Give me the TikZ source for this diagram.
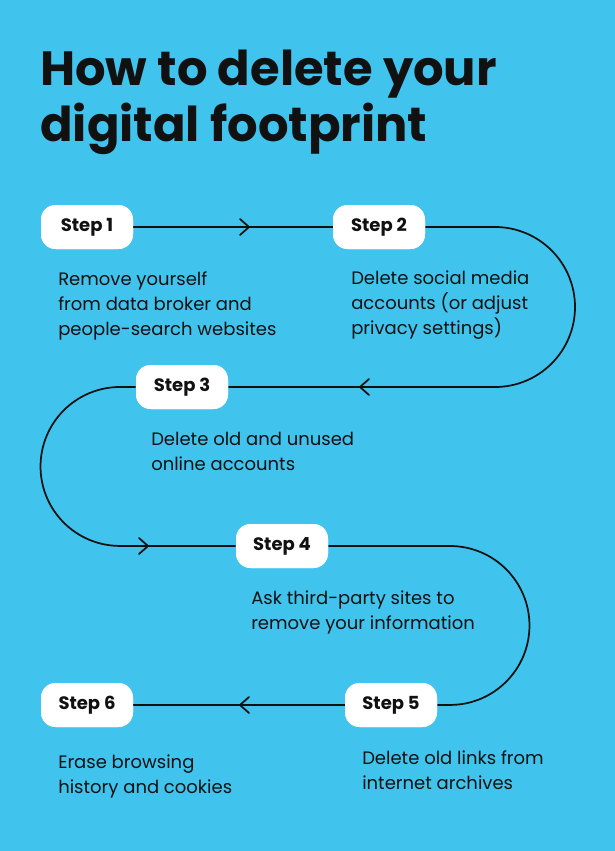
\documentclass[tikz,border=0pt]{standalone}
\usepackage{fontspec}
\setmainfont{Poppins}
\definecolor{bg}{HTML}{40C4EE}
\definecolor{ink}{HTML}{111111}
\begin{document}
\begin{tikzpicture}[x=0.75pt,y=-0.75pt,
  pill/.style={fill=white,rounded corners=11pt,minimum width=69pt,minimum height=33pt,font=\fontsize{13.5}{16}\selectfont\bfseries,text=ink},
  desc/.style={anchor=north west,align=left,font=\fontsize{13.5}{18.75}\selectfont,text=ink,inner sep=0pt},
  flow/.style={draw=ink,line width=1.3pt},
  chev/.style={draw=ink,line width=1.3pt,line cap=round,line join=miter}]
\fill[bg] (0,0) rectangle (615,851);
\useasboundingbox (0,0) rectangle (615,851);
\node[anchor=north west,inner sep=0pt,align=left,font=\fontsize{36}{42}\selectfont\bfseries,text=ink] (title) at (40,50) {How to delete your\\digital footprint};
\coordinate (k1) at (495,227); \coordinate (k3) at (120,387);
\coordinate (k5) at (450,546);
\node[pill] (s1) at (87,227) {Step 1};
\node[pill] (s2) at (379,227) {Step 2};
\node[pill] (s3) at (182,387) {Step 3};
\node[pill] (s4) at (282,546) {Step 4};
\node[pill] (s5) at (391,705) {Step 5};
\node[pill] (s6) at (87,705) {Step 6};
\draw[flow] (s1.east) -- (s2.west);
\draw[flow] (s2.east) -- (k1) arc[start angle=90,end angle=-90,radius=60pt] -- (s3.east);
\draw[flow] (s3.west) -- (k3) arc[start angle=90,end angle=270,radius=59.6pt] -- (s4.west);
\draw[flow] (s4.east) -- (k5) arc[start angle=90,end angle=-90,radius=59.6pt] -- (s5.east);
\draw[flow] (s5.west) -- (s6.east);
\node[pill] at (87,227) {Step 1};
\node[pill] at (379,227) {Step 2};
\node[pill] at (182,387) {Step 3};
\node[pill] at (282,546) {Step 4};
\node[pill] at (391,705) {Step 5};
\node[pill] at (87,705) {Step 6};
\coordinate (c1) at (249,227); \coordinate (c2) at (360,387);
\coordinate (c3) at (148,546); \coordinate (c4) at (240,705);
\draw[chev] (c1) ++(-9,-8) -- (c1) -- ++(-9,8);
\draw[chev] (c2) ++(9,-8) -- (c2) -- ++(9,8);
\draw[chev] (c3) ++(-9,-8) -- (c3) -- ++(-9,8);
\draw[chev] (c4) ++(9,-8) -- (c4) -- ++(9,8);
\node[desc] (d1) at (58,271) {Remove yourself\\from data broker and\\people-search websites};
\node[desc] (d2) at (351,271) {Delete social media\\accounts (or adjust\\privacy settings)};
\node[desc] (d3) at (151,432) {Delete old and unused\\online accounts};
\node[desc] (d4) at (251,591) {Ask third-party sites to\\remove your information};
\node[desc] (d5) at (362,750) {Delete old links from\\internet archives};
\node[desc] (d6) at (58,755) {Erase browsing\\history and cookies};
\end{tikzpicture}
\end{document}
